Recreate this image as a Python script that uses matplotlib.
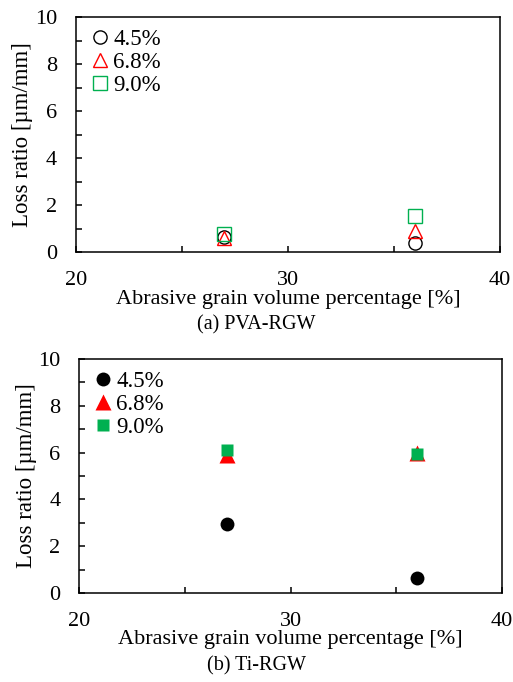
import matplotlib
matplotlib.use("Agg")
import matplotlib.pyplot as plt
from matplotlib.ticker import MultipleLocator

plt.rcParams["font.family"] = ["Liberation Serif", "DejaVu Serif"]

# grain volume percentage [%]
grain_pct = [27, 36]
series_labels = ["4.5%", "6.8%", "9.0%"]

# (a) PVA-RGW loss ratio [um/mm]
pva_45 = [0.65, 0.41]
pva_68 = [0.60, 0.93]
pva_90 = [0.78, 1.56]

# (b) Ti-RGW loss ratio [um/mm]
ti_45 = [2.95, 0.63]
ti_68 = [5.90, 5.98]
ti_90 = [6.11, 5.93]

red = "#FF0000"
green = "#00B050"

fig = plt.figure(figsize=(5.13, 6.82), dpi=100)
ax1 = fig.add_axes([0.1481, 0.6298, 0.8265, 0.3453])
ax2 = fig.add_axes([0.1540, 0.1305, 0.8246, 0.3431])


def style_axes(ax):
    ax.set_xlim(20, 40)
    ax.set_ylim(0, 10)
    ax.xaxis.set_major_locator(MultipleLocator(10))
    ax.xaxis.set_minor_locator(MultipleLocator(5))
    ax.yaxis.set_major_locator(MultipleLocator(2))
    ax.yaxis.set_minor_locator(MultipleLocator(1))
    ax.tick_params(axis="both", which="both", direction="in", width=1.1,
                   length=4.5, labelsize=16)
    ax.tick_params(axis="x", which="both", pad=13.5)
    ax.tick_params(axis="y", which="both", pad=13.5)
    for sp in ax.spines.values():
        sp.set_linewidth(1.1)
    ax.set_ylabel("Loss ratio [µm/mm]", fontsize=16.5, va="center")
    ax.yaxis.set_label_coords(-0.125, 0.5)
    ax.set_xlabel("Abrasive grain volume percentage [%]", fontsize=16, va="center")
    ax.xaxis.set_label_coords(0.5, -0.2)
    ax.legend(loc="upper left", bbox_to_anchor=(0.036, 0.95), frameon=False,
              fontsize=16.5, labelspacing=0.1, handlelength=0.75,
              handletextpad=0.2, borderpad=0, borderaxespad=0)


# open markers
ax1.plot(grain_pct, pva_45, "o", ms=9.5, mfc="none", mec="black", mew=1.0,
         ls="none", label=series_labels[0])
ax1.plot(grain_pct, pva_68, "^", ms=10.5, mfc="none", mec=red, mew=1.0,
         ls="none", label=series_labels[1])
ax1.plot(grain_pct, pva_90, "s", ms=10, mfc="none", mec=green, mew=1.0,
         ls="none", label=series_labels[2])
style_axes(ax1)

# filled markers
ax2.plot(grain_pct, ti_45, "o", ms=10, color="black", mec="none",
         ls="none", label=series_labels[0])
ax2.plot(grain_pct, ti_68, "^", ms=11.5, color=red, mec="none",
         ls="none", label=series_labels[1])
ax2.plot(grain_pct, ti_90, "s", ms=8.5, color=green, mec="none",
         ls="none", label=series_labels[2])
style_axes(ax2)

fig.text(0.5, 1 - 325 / 682, "(a) PVA-RGW", ha="center", va="center", fontsize=14.5)
fig.text(0.5, 1 - 666 / 682, "(b) Ti-RGW", ha="center", va="center", fontsize=14.5)

fig.savefig("out.png", dpi=100)
